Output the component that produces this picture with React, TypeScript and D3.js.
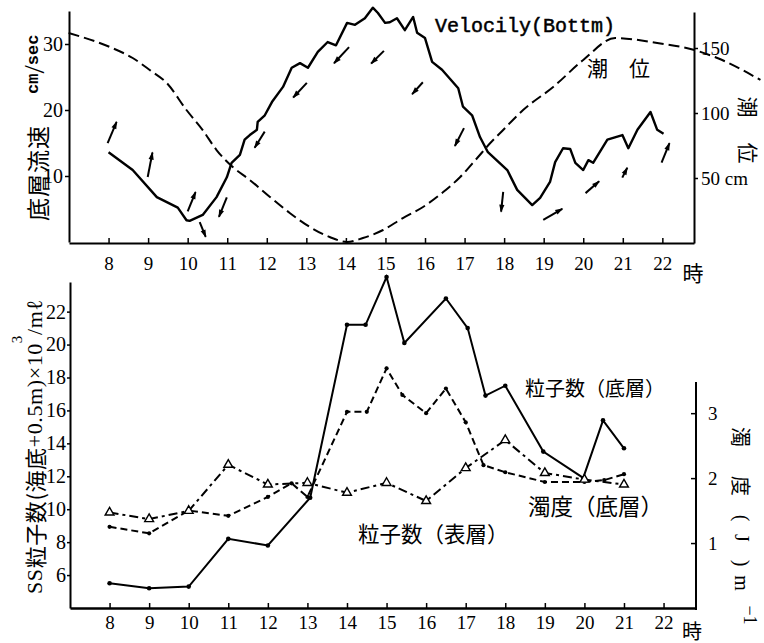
import React, { useEffect, useRef } from "react";
import * as d3 from "d3";

// hour ticks shared by both panels
const hours = [8, 9, 10, 11, 12, 13, 14, 15, 16, 17, 18, 19, 20, 21, 22];

// top panel: bottom current velocity (cm/sec)
const velTime = [
  8.0, 8.61, 9.22, 9.75, 9.97, 10.05, 10.38, 10.73, 10.99, 11.11, 11.32, 11.44,
  11.57, 11.75, 11.77, 11.95, 12.13, 12.41, 12.63, 12.84, 13.04, 13.29, 13.54,
  13.75, 14.03, 14.23, 14.48, 14.68, 14.81, 14.99, 15.11, 15.29, 15.49, 15.7,
  15.8, 16.0, 16.18, 16.43, 16.84, 16.96, 17.19, 17.39, 17.59, 18.08, 18.33,
  18.71, 18.91, 19.16, 19.29, 19.49, 19.67, 19.8, 20.0, 20.13, 20.25, 20.61,
  20.99, 21.14, 21.37, 21.7, 21.87, 22.03,
];
const velValue = [
  13.6, 10.9, 6.8, 5.2, 3.3, 3.2, 4.1, 6.8, 9.8, 12.0, 13.2, 15.5, 16.2, 17.0,
  18.2, 19.2, 21.2, 23.5, 26.4, 27.1, 26.4, 28.8, 30.3, 29.8, 33.2, 32.9, 33.9,
  35.5, 34.7, 33.2, 33.3, 33.9, 32.1, 34.1, 31.7, 30.9, 27.3, 26.1, 23.3, 20.5,
  19.2, 15.9, 13.6, 10.9, 7.9, 5.6, 6.7, 9.1, 12.1, 14.2, 14.1, 12.0, 10.9,
  12.4, 12.0, 15.5, 16.2, 14.2, 17.0, 19.7, 17.0, 16.4,
];

// top panel: tide level (cm)
const tideTime = [
  6.99, 8.03, 8.61, 9.04, 9.47, 9.97, 10.38, 10.73, 11.14, 11.57, 12.08, 12.58,
  13.09, 13.59, 14.03, 14.43, 14.94, 15.44, 15.95, 16.46, 16.89, 17.32, 17.65,
  17.9, 18.48, 19.24, 20.0, 20.81, 21.87, 22.81, 23.39, 24.48,
];
const tideValue = [
  161.5, 150.8, 142.3, 133.1, 123.1, 102.3, 86.9, 71.5, 58.5, 48.5, 35.4, 23.1,
  12.3, 4.6, 0.8, 3.8, 10.0, 19.2, 27.7, 39.2, 50.8, 65.4, 76.9, 84.6, 102.3,
  120.0, 140.8, 157.7, 153.8, 148.5, 142.3, 125.4,
];

// current direction arrows (time, level in cm/sec, compass direction, speed)
const arrowTime = [8.09, 9.05, 10.1, 10.38, 10.89, 11.82, 12.84, 13.89, 14.8, 15.81, 16.87, 17.95, 19.23, 20.23, 21.05, 22.08];
const arrowLevel = [16.6, 11.7, 6.1, 1.9, 5.3, 15.5, 23.0, 28.3, 28.0, 23.3, 15.9, 6.1, 4.2, 8.3, 10.5, 13.5];
const arrowDir = [23, 11, 22, 158, 202, 212, 223, 223, 225, 222, 207, 186, 60, 49, 27, 22];
const arrowSpeed = [23, 25, 21, 16, 21, 19, 20, 22, 18, 16, 20, 20, 22, 18, 11, 21];

// bottom panel: particle count, bottom layer (x10^3/ml)
const bottomTime = [8, 9, 10, 11, 12, 13.07, 14, 14.47, 15, 15.45, 16.5, 17.05, 17.5, 18, 18.96, 19.97, 20.47, 21];
const bottomCount = [5.5, 5.2, 5.3, 8.2, 7.8, 10.7, 21.2, 21.2, 24.1, 20.1, 22.8, 21.0, 16.9, 17.5, 13.5, 11.9, 15.4, 13.7];

// bottom panel: turbidity, bottom layer (m^-1)
const turbTime = [8, 9, 10, 11, 12, 12.6, 13, 14, 14.5, 15, 15.4, 16, 16.5, 17, 17.45, 18, 19, 20, 20.5, 21];
const turbValue = [1.25, 1.15, 1.5, 1.42, 1.71, 1.92, 1.71, 3.02, 3.02, 3.69, 3.28, 3.0, 3.38, 2.86, 2.2, 2.09, 1.94, 1.94, 1.97, 2.06];

// bottom panel: particle count, surface layer
const surfTime = [8, 9, 10, 11, 12, 13, 14, 15, 16, 17, 18, 19, 20, 21];
const surfCount = [9.8, 9.4, 9.9, 12.7, 11.5, 11.6, 11.0, 11.6, 10.5, 12.5, 14.2, 12.2, 11.8, 11.5];

const serif = "Liberation Serif";
const cjk = "Noto Sans CJK JP";

const App = () => {
  const ref = useRef<SVGSVGElement>(null);

  useEffect(() => {
    const svg = d3.select(ref.current);
    svg.selectAll("*").remove();

    const styleAxis = (g: any, size: number) => {
      g.attr("font-family", serif).attr("font-size", size);
      g.select(".domain").attr("stroke", "#000").attr("stroke-width", 2);
      g.selectAll(".tick line").attr("stroke", "#000").attr("stroke-width", 1.5);
      g.selectAll(".tick text").attr("fill", "#000");
    };

    // rotated text helper: a group carries the transform
    const vtext = (x: number, y: number, angle: number, family: string, size: number) =>
      svg
        .append("g")
        .attr("transform", `translate(${x},${y}) rotate(${angle})`)
        .append("text")
        .attr("x", 0)
        .attr("y", 0)
        .attr("dominant-baseline", "central")
        .attr("font-family", family)
        .attr("font-size", size);

    // ---------- top panel ----------
    const xTop = d3.scaleLinear().domain([7, 22.8]).range([69, 694]);
    const yVel = d3.scaleLinear().domain([0, 35]).range([242, 11]);
    const yTide = d3.scaleLinear().domain([0, 177.7]).range([243, 12]);

    const gxTop = svg
      .append("g")
      .attr("transform", "translate(0,243)")
      .call(d3.axisBottom(xTop).tickValues(hours).tickSizeInner(-5).tickSizeOuter(0).tickPadding(14));
    styleAxis(gxTop, 19);

    const gyVel = svg
      .append("g")
      .attr("transform", "translate(69,0)")
      .call(d3.axisLeft(yVel).tickValues([10, 20, 30]).tickSizeInner(4).tickSizeOuter(0).tickPadding(2));
    styleAxis(gyVel, 20);

    const gyTide = svg
      .append("g")
      .attr("transform", "translate(694,0)")
      .call(
        d3
          .axisRight(yTide)
          .tickValues([50, 100, 150])
          .tickSizeInner(4)
          .tickSizeOuter(0)
          .tickPadding(3)
          .tickFormat((d: any) => (d === 50 ? "50 cm" : String(d)))
      );
    styleAxis(gyTide, 19);

    // tide (dashed)
    const tideLine = d3
      .line<number>()
      .x((d, i) => xTop(tideTime[i]))
      .y((d) => yTide(d))
      .curve(d3.curveMonotoneX);
    svg
      .append("path")
      .attr("d", tideLine(tideValue))
      .attr("fill", "none")
      .attr("stroke", "#000")
      .attr("stroke-width", 2)
      .attr("stroke-dasharray", "11,5");

    // velocity (solid)
    const velLine = d3
      .line<number>()
      .x((d, i) => xTop(velTime[i]))
      .y((d) => yVel(d));
    svg
      .append("path")
      .attr("d", velLine(velValue))
      .attr("fill", "none")
      .attr("stroke", "#000")
      .attr("stroke-width", 2.4)
      .attr("stroke-linejoin", "round");

    // direction arrows
    const lenScale = d3.scaleLinear().domain([0, 25]).range([0, 25]);
    arrowTime.forEach((t, i) => {
      const cx = xTop(t);
      const cy = yVel(arrowLevel[i]);
      const a = (arrowDir[i] * Math.PI) / 180;
      const L = lenScale(arrowSpeed[i]);
      const ux = Math.sin(a);
      const uy = -Math.cos(a);
      const x1 = cx - (ux * L) / 2;
      const y1 = cy - (uy * L) / 2;
      const x2 = cx + (ux * L) / 2;
      const y2 = cy + (uy * L) / 2;
      svg
        .append("line")
        .attr("x1", x1)
        .attr("y1", y1)
        .attr("x2", x2)
        .attr("y2", y2)
        .attr("stroke", "#000")
        .attr("stroke-width", 2);
      const hb = 7;
      const hw = 2.6;
      const bx = x2 - ux * hb;
      const by = y2 - uy * hb;
      svg
        .append("path")
        .attr("d", `M${x2 + ux},${y2 + uy}L${bx - uy * hw},${by + ux * hw}L${bx + uy * hw},${by - ux * hw}Z`)
        .attr("fill", "#000");
    });

    svg
      .append("text")
      .attr("x", 435)
      .attr("y", 26)
      .attr("dominant-baseline", "central")
      .attr("font-family", "Liberation Mono")
      .attr("font-size", 20)
      .attr("stroke", "#000")
      .attr("stroke-width", 0.5)
      .text("Velocily(Bottm)");

    svg
      .append("text")
      .attr("x", 587)
      .attr("y", 67)
      .attr("dominant-baseline", "central")
      .attr("font-family", cjk)
      .attr("font-size", 21)
      .text("潮\u3000位");

    svg
      .append("text")
      .attr("x", 693)
      .attr("y", 272)
      .attr("text-anchor", "middle")
      .attr("dominant-baseline", "central")
      .attr("font-family", cjk)
      .attr("font-size", 21)
      .text("時");

    // left axis title (top): one tspan per glyph along the rotated baseline
    const velTitle = vtext(37, 221, -90, cjk, 23);
    ["底", "層", "流", "速"].forEach((ch, i) => velTitle.append("tspan").attr("x", i * 24).text(ch));
    const cmText = vtext(33, 94, -90, "Liberation Mono", 17).attr("font-weight", "bold");
    cmText.append("tspan").text("cm");
    cmText.append("tspan").attr("font-size", 30).attr("font-weight", "normal").attr("font-family", serif).text("/");
    cmText.append("tspan").text("sec");

    // right axis title (top)
    const tideTitle = vtext(749, 107, 90, cjk, 21).attr("text-anchor", "middle");
    tideTitle.append("tspan").attr("x", 0).text("潮");
    tideTitle.append("tspan").attr("x", 46).text("位");

    // ---------- bottom panel ----------
    const xBot = d3.scaleLinear().domain([7, 22.82]).range([70, 696]);
    const yCount = d3.scaleLinear().domain([4, 23.8]).range([608, 282]);
    const yTurb = d3.scaleLinear().domain([0, 3.48]).range([608, 382]);

    const gxBot = svg
      .append("g")
      .attr("transform", "translate(0,608)")
      .call(d3.axisBottom(xBot).tickValues(hours).tickSizeInner(-5).tickSizeOuter(0).tickPadding(8));
    styleAxis(gxBot, 19);
    gxBot.select(".domain").attr("stroke-width", 2.6);

    const gyCount = svg
      .append("g")
      .attr("transform", "translate(70,0)")
      .call(
        d3
          .axisLeft(yCount)
          .tickValues([6, 8, 10, 12, 14, 16, 18, 20, 22])
          .tickSizeInner(3)
          .tickSizeOuter(0)
          .tickPadding(1)
      );
    styleAxis(gyCount, 20);

    const gyTurb = svg
      .append("g")
      .attr("transform", "translate(696,0)")
      .call(
        d3
          .axisRight(yTurb)
          .tickValues([1, 2, 3])
          .tickFormat(d3.format("d"))
          .tickSizeInner(-5)
          .tickSizeOuter(0)
          .tickPadding(12)
      );
    styleAxis(gyTurb, 19);
    gyTurb.select(".domain").attr("d", `M0,${yTurb(3.48)}V${yTurb(-0.03)}`);

    const lineOf = (times: number[], y: any) =>
      d3
        .line<number>()
        .x((d, i) => xBot(times[i]))
        .y((d) => y(d));

    // surface count (dash-dot, triangles)
    svg
      .append("path")
      .attr("d", lineOf(surfTime, yCount)(surfCount))
      .attr("fill", "none")
      .attr("stroke", "#000")
      .attr("stroke-width", 2)
      .attr("stroke-dasharray", "9,4,3,4");

    // turbidity (dashed)
    svg
      .append("path")
      .attr("d", lineOf(turbTime, yTurb)(turbValue))
      .attr("fill", "none")
      .attr("stroke", "#000")
      .attr("stroke-width", 2)
      .attr("stroke-dasharray", "7,4");

    // bottom count (solid)
    svg
      .append("path")
      .attr("d", lineOf(bottomTime, yCount)(bottomCount))
      .attr("fill", "none")
      .attr("stroke", "#000")
      .attr("stroke-width", 2);

    svg
      .append("g")
      .selectAll("circle")
      .data(bottomCount)
      .enter()
      .append("circle")
      .attr("cx", (d, i) => xBot(bottomTime[i]))
      .attr("cy", (d) => yCount(d))
      .attr("r", 2.3)
      .attr("fill", "#000");

    svg
      .append("g")
      .selectAll("circle")
      .data(turbValue)
      .enter()
      .append("circle")
      .attr("cx", (d, i) => xBot(turbTime[i]))
      .attr("cy", (d) => yTurb(d))
      .attr("r", 2.1)
      .attr("fill", "#000");

    const tri = d3.symbol().type(d3.symbolTriangle).size(34);
    svg
      .append("g")
      .selectAll("path")
      .data(surfCount)
      .enter()
      .append("path")
      .attr("d", tri() as string)
      .attr("transform", (d, i) => `translate(${xBot(surfTime[i])},${yCount(d)})`)
      .attr("fill", "#fff")
      .attr("stroke", "#000")
      .attr("stroke-width", 1.4);

    const label = (x: number, y: number, text: string, size: number) =>
      svg
        .append("text")
        .attr("x", x)
        .attr("y", y)
        .attr("dominant-baseline", "central")
        .attr("font-family", cjk)
        .attr("font-size", size)
        .text(text);

    label(525, 387, "粒子数（底層）", 20);
    label(528, 505, "濁度（底層）", 22.5);
    label(358, 532, "粒子数（表層）", 21.5);

    svg
      .append("text")
      .attr("x", 692)
      .attr("y", 630)
      .attr("text-anchor", "middle")
      .attr("dominant-baseline", "central")
      .attr("font-family", cjk)
      .attr("font-size", 20)
      .text("時");

    // left axis title (bottom)
    const ssText = vtext(34, 594, -90, serif, 22).attr("letter-spacing", 0.6);
    ssText.append("tspan").text("SS");
    ssText.append("tspan").attr("font-family", cjk).text("粒子数(海底");
    ssText.append("tspan").text("+0.5m)×10");
    ssText.append("tspan").attr("dy", -17).attr("font-size", 15).text("3");
    ssText.append("tspan").attr("dy", 17).text("/mℓ");

    // right axis title (bottom), pieces placed along the axis
    const turbText = vtext(742, 437, 90, cjk, 20).attr("text-anchor", "middle");
    turbText.append("tspan").attr("x", 0).text("濁");
    turbText.append("tspan").attr("x", 49).text("度");
    turbText.append("tspan").attr("x", 81).attr("font-family", serif).text("(");
    turbText.append("tspan").attr("x", 101).attr("font-family", serif).text("J");
    turbText.append("tspan").attr("x", 126).attr("font-family", serif).text(")");
    turbText.append("tspan").attr("x", 146).attr("font-family", serif).text("m");
    turbText.append("tspan").attr("x", 178).attr("dy", -8).attr("font-size", 18).attr("font-family", serif).text("−1");
  }, []);

  return (
    <svg
      ref={ref}
      width={764}
      height={643}
      style={{ position: "absolute", left: 0, top: 0, background: "#fff" }}
    />
  );
};

export default App;
